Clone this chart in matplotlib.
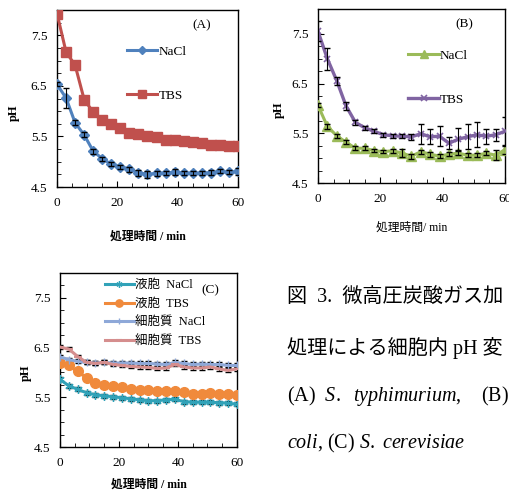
import matplotlib.pyplot as plt
from matplotlib.ticker import MultipleLocator

plt.rcParams['font.family'] = ['Liberation Serif', 'Noto Sans CJK JP']
plt.rcParams['mathtext.fontset'] = 'custom'
plt.rcParams['mathtext.rm'] = 'Liberation Serif'
plt.rcParams['mathtext.it'] = 'Liberation Serif:italic'

# time points (min)
t = [0, 3, 6, 9, 12, 15, 18, 21, 24, 27, 30, 33, 36, 39, 42, 45, 48, 51, 54, 57, 60]

# (A) S. typhimurium
a_nacl = [6.53, 6.26, 5.77, 5.53, 5.21, 5.06, 4.95, 4.90, 4.85, 4.78, 4.75, 4.77, 4.78,
          4.79, 4.78, 4.77, 4.78, 4.78, 4.81, 4.79, 4.81]
a_nacl_err = [0.04, 0.20, 0.05, 0.05, 0.05, 0.04, 0.04, 0.04, 0.05, 0.06, 0.07, 0.05, 0.04,
              0.06, 0.04, 0.04, 0.04, 0.05, 0.04, 0.04, 0.07]
a_tbs = [7.93, 7.17, 6.91, 6.23, 5.98, 5.83, 5.75, 5.66, 5.57, 5.55, 5.51, 5.48, 5.43,
         5.43, 5.41, 5.38, 5.37, 5.34, 5.34, 5.31, 5.31]

# (B) E. coli
b_nacl = [6.06, 5.64, 5.45, 5.32, 5.20, 5.20, 5.15, 5.13, 5.15, 5.10, 5.04, 5.13, 5.08,
          5.04, 5.08, 5.10, 5.06, 5.06, 5.10, 5.06, 5.17]
b_nacl_err = [0.04, 0.05, 0.04, 0.04, 0.04, 0.04, 0.03, 0.03, 0.04, 0.08, 0.05, 0.04, 0.05,
              0.04, 0.04, 0.04, 0.04, 0.04, 0.04, 0.10, 0.08]
b_tbs = [7.55, 7.00, 6.56, 6.05, 5.72, 5.61, 5.54, 5.47, 5.45, 5.44, 5.43, 5.49, 5.43,
         5.44, 5.30, 5.38, 5.43, 5.47, 5.44, 5.47, 5.54]
b_tbs_err = [0.20, 0.22, 0.08, 0.08, 0.05, 0.04, 0.04, 0.04, 0.04, 0.04, 0.06, 0.20, 0.15,
             0.20, 0.12, 0.22, 0.25, 0.25, 0.15, 0.12, 0.28]

# (C) S. cerevisiae
c_vac_nacl = [5.86, 5.73, 5.66, 5.59, 5.55, 5.53, 5.51, 5.49, 5.47, 5.45, 5.43, 5.43, 5.45,
              5.46, 5.41, 5.40, 5.40, 5.40, 5.39, 5.38, 5.36]
c_vac_tbs = [6.18, 6.14, 6.02, 5.89, 5.78, 5.75, 5.72, 5.70, 5.66, 5.65, 5.64, 5.63, 5.62,
             5.62, 5.60, 5.57, 5.57, 5.58, 5.56, 5.56, 5.54]
c_cyt_nacl = [6.31, 6.26, 6.22, 6.20, 6.19, 6.20, 6.19, 6.19, 6.19, 6.18, 6.18, 6.17, 6.16,
              6.20, 6.18, 6.16, 6.17, 6.16, 6.16, 6.14, 6.14]
c_cyt_tbs = [6.51, 6.47, 6.32, 6.20, 6.18, 6.20, 6.16, 6.14, 6.12, 6.11, 6.10, 6.08, 6.09,
             6.16, 6.11, 6.09, 6.09, 6.11, 6.07, 6.04, 6.07]
c_err = [0.04] * 21

W, H = 510, 492
fig = plt.figure(figsize=(W / 100, H / 100), dpi=100)


def box(l, r, top, b):
    return [l / W, (H - b) / H, (r - l) / W, (b - top) / H]


def style(ax, label, xl_bold=True, ylab=(-0.2, 0.42), xpad=16):
    ax.set_xlim(0, 60)
    ax.set_ylim(4.5, 8.0)
    ax.set_xticks([0, 20, 40, 60])
    ax.set_yticks([4.5, 5.5, 6.5, 7.5])
    ax.xaxis.set_minor_locator(MultipleLocator(5))
    ax.yaxis.set_minor_locator(MultipleLocator(0.25))
    ax.tick_params(which='both', direction='in', labelsize=9.5, pad=7)
    ax.tick_params(which='major', length=4)
    ax.tick_params(which='minor', length=3)
    for s in ax.spines.values():
        s.set_linewidth(1.0)
    ax.set_ylabel('pH', fontsize=9, fontweight='bold')
    ax.yaxis.set_label_coords(*ylab)
    if xl_bold:
        ax.set_xlabel('処理時間 / min', fontsize=8.5, fontweight='bold', labelpad=xpad)
    else:
        ax.set_xlabel('処理時間/ min', fontsize=8.5, labelpad=xpad)
    ax.text(label[1], label[2], label[0], transform=ax.transAxes, fontsize=9.5,
            ha='center', va='center')


# panel A
ax1 = fig.add_axes(box(57, 238, 10, 187))
ax1.errorbar(t, a_nacl, yerr=a_nacl_err, fmt='none', ecolor='black', elinewidth=0.8,
             capsize=2.5, zorder=4)
ax1.plot(t, a_nacl, color='#4F81BD', lw=2.2, marker='D', ms=5.5, label='NaCl', zorder=3)
ax1.plot(t, a_tbs, color='#C0504D', lw=2.2, marker='s', ms=7.5, label='TBS', zorder=3)
style(ax1, ('(A)', 0.8, 0.915), ylab=(-0.204, 0.42), xpad=16)
ax1.legend(loc='upper left', bbox_to_anchor=(0.32, 0.865), frameon=False, numpoints=1,
           fontsize=9.5, handlelength=2.3, handletextpad=0.1, labelspacing=2.4,
           markerscale=0.8)

# panel B
ax2 = fig.add_axes(box(318, 505, 9, 183))
ax2.errorbar(t, b_nacl, yerr=b_nacl_err, fmt='none', ecolor='black', elinewidth=0.8,
             capsize=2.5, zorder=4)
ax2.errorbar(t, b_tbs, yerr=b_tbs_err, fmt='none', ecolor='black', elinewidth=0.8,
             capsize=2.5, zorder=4)
ax2.plot(t, b_nacl, color='#9BBB59', lw=2.2, marker='^', ms=7, label='NaCl', zorder=3)
ax2.plot(t, b_tbs, color='#8064A2', lw=2.4, marker='x', ms=5, mew=1.2, label='TBS',
         zorder=3)
style(ax2, ('(B)', 0.785, 0.91), xl_bold=False, ylab=(-0.176, 0.42), xpad=12.5)
ax2.legend(loc='upper left', bbox_to_anchor=(0.42, 0.835), frameon=False, numpoints=1,
           fontsize=9.5, handlelength=2.3, handletextpad=0.1, labelspacing=2.4,
           markerscale=0.8)

# panel C
ax3 = fig.add_axes(box(60, 237, 273, 447))
for ys in (c_vac_nacl, c_vac_tbs, c_cyt_nacl, c_cyt_tbs):
    ax3.errorbar(t, ys, yerr=c_err, fmt='none', ecolor='black', elinewidth=0.8,
                 capsize=2, zorder=2)
ax3.plot(t, c_vac_nacl, color='#31A2B8', lw=2.2, marker=(6, 2, 0), ms=6, mew=1,
         label='液胞  NaCl', zorder=3)
ax3.plot(t, c_vac_tbs, color='#F08A3C', lw=2.2, marker='o', ms=7, label='液胞  TBS',
         zorder=3)
ax3.plot(t, c_cyt_nacl, color='#8EA8D8', lw=2.2, marker='+', ms=6, mew=1,
         label='細胞質  NaCl', zorder=3)
ax3.plot(t, c_cyt_tbs, color='#D58E8E', lw=2.2, marker='_', ms=6, mew=1.5,
         label='細胞質  TBS', zorder=3)
style(ax3, ('(C)', 0.85, 0.9), ylab=(-0.158, 0.425), xpad=7.5)
ax3.legend(loc='upper left', bbox_to_anchor=(0.19, 1.03), frameon=False, numpoints=1,
           fontsize=9, handlelength=2.3, handletextpad=0.1, labelspacing=0.55,
           markerscale=0.75)

# caption (cut off at the right edge as in the source page)
cap_x = 287 / W
fig.text(cap_x, 1 - 298 / H, '図  3.  微高圧炭酸ガス加', fontsize=14.5, va='center')
fig.text(cap_x, 1 - 348 / H, '処理による細胞内 pH 変', fontsize=14.5, va='center')
fig.text(cap_x, 1 - 396 / H, r'(A)  $S.$  $typhimurium$,    (B)', fontsize=14.5,
         va='center')
fig.text(cap_x, 1 - 443 / H, r'$coli$, (C) $S.$ $cerevisiae$', fontsize=14.5, va='center')

fig.savefig('out.png', dpi=100)
